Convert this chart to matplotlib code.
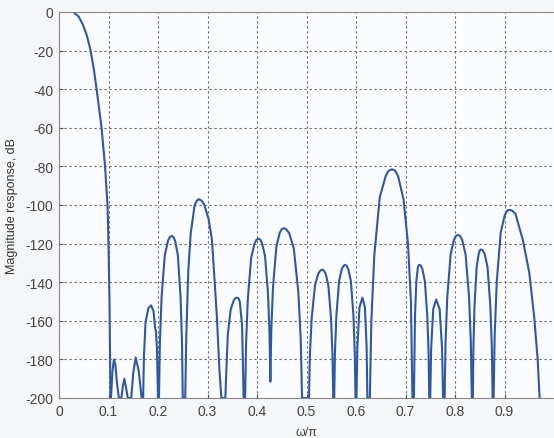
import matplotlib
matplotlib.use("Agg")
import matplotlib.pyplot as plt

# passband roll-off (x in units of pi, y in dB)
passband_f = [0.029, 0.040, 0.049, 0.056, 0.063, 0.070, 0.076, 0.081, 0.086,
              0.093, 0.098, 0.100, 0.102, 0.103, 0.104]
passband_db = [0.0, -2.5, -7.0, -12.0, -19.0, -29.0, -40.0, -50.0, -60.0,
               -80.0, -100.0, -120.0, -150.0, -175.0, -200.0]

# stopband lobes, one row per lobe
stopband_f = [
    0.105, 0.108, 0.111, 0.114, 0.117, 0.121,
    0.126, 0.129, 0.132, 0.135, 0.139,
    0.146, 0.150, 0.155, 0.161, 0.167,
    0.170, 0.1716, 0.1748, 0.1804, 0.186, 0.191, 0.194, 0.196, 0.198, 0.200,
    0.202, 0.2038, 0.2072, 0.2137, 0.2202, 0.224, 0.228, 0.231, 0.2346, 0.2401, 0.2456, 0.2485, 0.250,
    0.255, 0.257, 0.261, 0.266, 0.274, 0.279, 0.283, 0.288, 0.293, 0.302, 0.309, 0.319, 0.324, 0.328,
    0.336, 0.3408, 0.3468, 0.3528, 0.356, 0.360, 0.363, 0.3652, 0.3698, 0.373,
    0.376, 0.3779, 0.3814, 0.3882, 0.3949, 0.399, 0.403, 0.407, 0.4102, 0.4162, 0.4222, 0.4253, 0.427,
    0.4289, 0.4324, 0.4392, 0.4459, 0.450, 0.454, 0.459, 0.4651, 0.4744, 0.4836, 0.4884, 0.491,
    0.505, 0.5069, 0.5104, 0.5172, 0.5239, 0.528, 0.532, 0.535, 0.5386, 0.5441, 0.5496, 0.5525, 0.554,
    0.556, 0.5575, 0.5604, 0.5659, 0.5714, 0.575, 0.578, 0.581, 0.5843, 0.5896, 0.5948, 0.5975, 0.599,
    0.601, 0.6028, 0.607, 0.613, 0.618, 0.6215, 0.623,
    0.628, 0.631, 0.637, 0.648, 0.660, 0.666, 0.673, 0.679, 0.685, 0.696, 0.705, 0.711, 0.714,
    0.717, 0.7192, 0.722, 0.7247, 0.726, 0.728, 0.731, 0.734, 0.739, 0.744, 0.7466, 0.748,
    0.750, 0.7518, 0.756, 0.762, 0.769, 0.7739, 0.776,
    0.779, 0.7809, 0.7844, 0.7912, 0.7979, 0.802, 0.806, 0.810, 0.8144, 0.8214, 0.8284, 0.832, 0.834,
    0.836, 0.8372, 0.8394, 0.8437, 0.8479, 0.850, 0.853, 0.856, 0.8599, 0.8657, 0.8714, 0.8744, 0.876,
    0.878, 0.8802, 0.8844, 0.8924, 0.9004, 0.905, 0.910, 0.916, 0.922, 0.937, 0.950, 0.960, 0.967, 0.971,
]
stopband_db = [
    -200, -186, -180, -183, -192, -200,
    -200, -194, -190, -194, -200,
    -200, -187, -179, -186, -200,
    -200, -178, -161, -153.5, -152, -155, -163, -166, -175, -200,
    -200, -171.4, -148, -126, -118.5, -116.6, -116, -116.6, -118.5, -126, -148, -171, -200,
    -200, -170, -135, -115, -100, -97.6, -97, -97.8, -99.5, -107, -118, -158, -185, -200,
    -200, -167.8, -154.2, -149.6, -148.3, -148, -148.5, -150, -162, -200,
    -200, -172, -148.9, -127.4, -120, -118, -117.5, -118, -119.7, -126.4, -145.6, -166.3, -191.5,
    -164.5, -142.2, -121.5, -114.4, -112.5, -112, -112.6, -114.6, -122.6, -145.4, -170, -200,
    -200, -177.4, -158.8, -141.5, -135.5, -134, -133.5, -134, -135.5, -141.5, -158.8, -177.4, -200,
    -200, -176.5, -157.2, -139.3, -133.1, -131.5, -131, -131.5, -133.1, -139.3, -157.2, -176.5, -200,
    -200, -174, -153, -148, -153, -174, -200,
    -200, -160, -126, -96, -85, -82.2, -81.5, -82.2, -85, -97, -120, -150, -200,
    -200, -157.2, -139.3, -133, -131.4, -131, -131.4, -133.1, -139.3, -157.2, -176.5, -200,
    -200, -174.5, -154, -149, -154, -174.5, -200,
    -200, -171.3, -147.6, -125.6, -118, -116, -115.5, -116, -118, -125.6, -147.6, -171.3, -200,
    -200, -173.8, -152.3, -132.2, -125.3, -123.5, -123, -123.5, -125.3, -132.2, -152.3, -173.8, -200,
    -200, -166.9, -139.6, -114.2, -105.4, -103, -102.5, -103, -104.5, -118, -135, -158, -180, -200,
]

x_ticks = [0, 0.1, 0.2, 0.3, 0.4, 0.5, 0.6, 0.7, 0.8, 0.9]
y_ticks = [0, -20, -40, -60, -80, -100, -120, -140, -160, -180, -200]

plt.rcParams["font.family"] = ["Liberation Sans", "DejaVu Sans"]
plt.rcParams["axes.unicode_minus"] = False

fig = plt.figure(figsize=(5.54, 4.39), dpi=100, facecolor="#f4f6f8")
ax = fig.add_axes([59 / 554, 40 / 439, 495 / 554, 386 / 439])
ax.set_facecolor("#fbfcfd")

line_color = "#2f58a4"
ax.plot(passband_f, passband_db, color=line_color, lw=1.5)
ax.plot(stopband_f, stopband_db, color=line_color, lw=1.5)

ax.set_xlim(0, 1)
ax.set_ylim(-200, 0)
ax.set_xticks(x_ticks)
ax.set_xticklabels([f"{t:g}" for t in x_ticks])
ax.set_yticks(y_ticks)
ax.set_yticklabels([str(t) for t in y_ticks])
ax.tick_params(direction="in", length=3, labelsize=10, colors="#555555",
               labelcolor="#444444", pad=4)
ax.grid(True, color="#666666", linestyle=(0, (2, 2.5)), lw=0.8)

for side in ["left", "bottom", "top"]:
    ax.spines[side].set_color("#8a8a8a")
ax.spines["right"].set_visible(False)

ax.set_xlabel("ω/π", fontsize=9, color="#444444", labelpad=6)
ax.set_ylabel("Magnitude response, dB", fontsize=9, color="#333333")
ax.yaxis.set_label_coords(-0.083, 0.5)

fig.savefig("out.png", dpi=100, facecolor=fig.get_facecolor())
